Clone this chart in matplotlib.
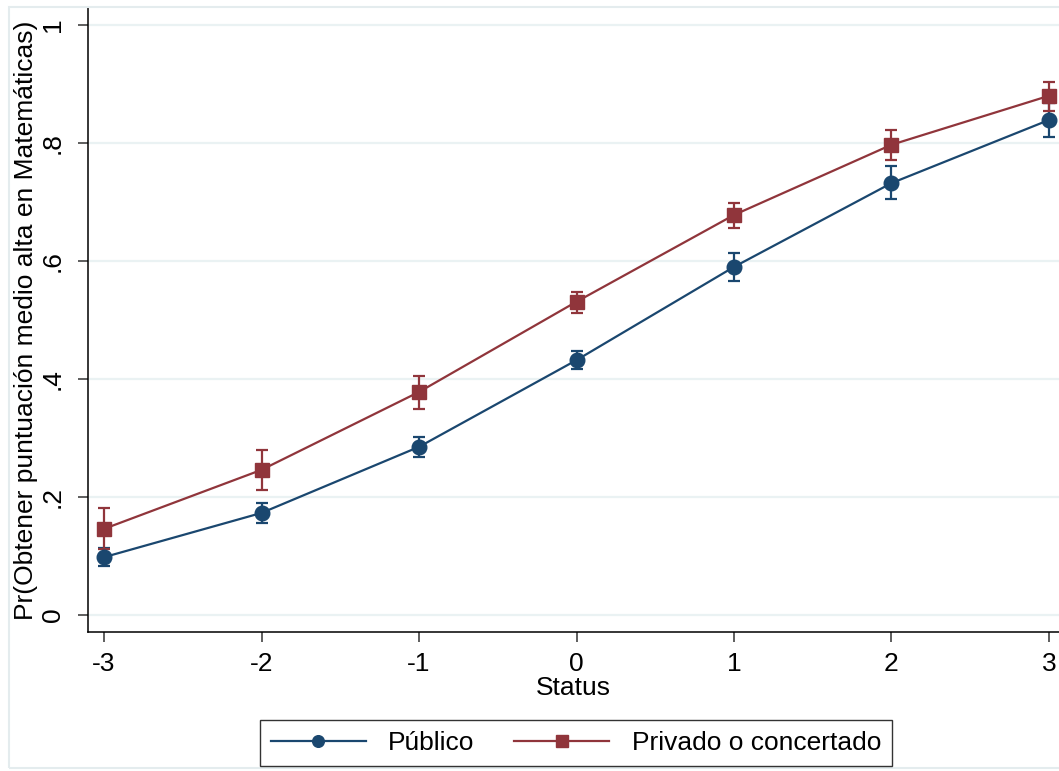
import numpy as np
import matplotlib.pyplot as plt
from matplotlib.patches import Rectangle

plt.rcParams['font.family'] = ['Liberation Sans', 'DejaVu Sans']

# data
status = [-3, -2, -1, 0, 1, 2, 3]
publico = [0.098, 0.173, 0.285, 0.432, 0.590, 0.732, 0.839]
publico_lo = [0.083, 0.156, 0.268, 0.417, 0.566, 0.705, 0.811]
publico_hi = [0.113, 0.190, 0.302, 0.447, 0.614, 0.761, 0.867]
privado = [0.146, 0.246, 0.378, 0.531, 0.678, 0.797, 0.880]
privado_lo = [0.112, 0.212, 0.349, 0.512, 0.656, 0.771, 0.854]
privado_hi = [0.181, 0.280, 0.405, 0.547, 0.699, 0.822, 0.904]

yticks = [0, 0.2, 0.4, 0.6, 0.8, 1]
ytick_labels = ['0', '.2', '.4', '.6', '.8', '1']

navy = '#1a476f'
maroon = '#90353b'
fs = 19

fig = plt.figure(figsize=(10.59, 7.71), dpi=100)
ax = fig.add_axes([88/1059, 1 - 632/771, (1059 - 88)/1059, (632 - 8)/771])

for y, lo, hi, col, mk, lab in [(publico, publico_lo, publico_hi, navy, 'o', 'Público'),
                                (privado, privado_lo, privado_hi, maroon, 's', 'Privado o concertado')]:
    y = np.array(y)
    err = [y - np.array(lo), np.array(hi) - y]
    ax.errorbar(status, y, yerr=err, fmt='none', ecolor=col, elinewidth=1.6,
                capsize=4.3, capthick=1.6, zorder=3)
    ax.plot(status, y, color=col, lw=1.6, marker=mk, markersize=10.5 if mk == 'o' else 10,
            label=lab, zorder=4)

ax.set_xlim(-3.1016, 3.0635)
ax.set_ylim(-0.0288, 1.0288)
ax.set_xticks(status)
ax.set_xticklabels([str(s) for s in status], fontsize=fs)
ax.set_yticks(yticks)
ax.set_yticklabels(ytick_labels, fontsize=fs, rotation=90, va='center')
ax.tick_params(axis='x', length=7.5, width=1.1, color='#333333', pad=7)
ax.tick_params(axis='y', length=7.5, width=1.1, color='#333333', pad=9)
ax.grid(axis='y', color='#eaf2f3', lw=1.6, zorder=0)
ax.set_axisbelow(True)
for s in ['top', 'right']:
    ax.spines[s].set_visible(False)
ax.spines['left'].set_linewidth(1.1)
ax.spines['bottom'].set_linewidth(1.1)

ax.set_xlabel('Status', fontsize=fs, labelpad=0)
ax.set_ylabel('Pr(Obtener puntuación medio alta en Matemáticas)', fontsize=fs, labelpad=2)

leg = fig.legend(loc='center', bbox_to_anchor=(576/1059, 1 - 743/771), ncol=2,
                 fontsize=fs, frameon=True, fancybox=False, edgecolor='black',
                 handlelength=3.6, handletextpad=0.85, columnspacing=1.5,
                 borderpad=0.4, borderaxespad=0, markerscale=0.8)
leg.get_frame().set_linewidth(1.0)

fig.patches.append(Rectangle((9/1059, 3/771), 1.0, 1 - 10/771, transform=fig.transFigure,
                             fill=False, edgecolor='#e4ecee', lw=1.5))

fig.savefig('out.png', dpi=100)
